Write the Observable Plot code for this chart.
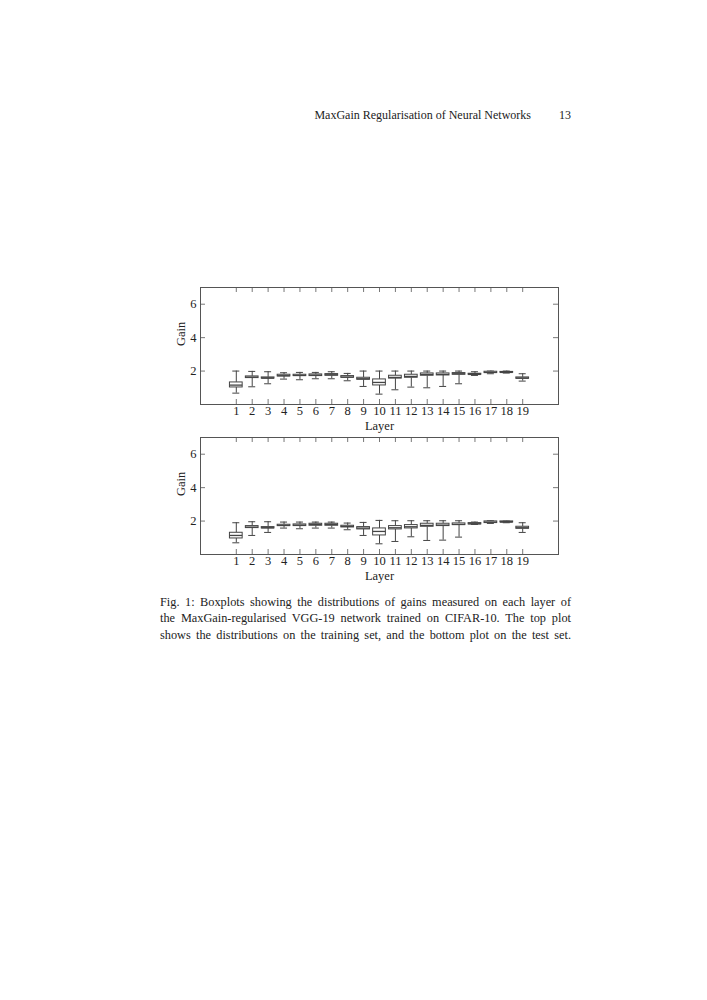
<!DOCTYPE html>
<html>
<head>
<meta charset="utf-8">
<script src="https://cdn.jsdelivr.net/npm/d3@7"></script>
<script src="https://cdn.jsdelivr.net/npm/@observablehq/plot@0.6"></script>
<style>
  html, body { margin: 0; padding: 0; background: #fff; }
  body { width: 707px; height: 1000px; position: relative; font-family: "Liberation Serif", "DejaVu Serif", serif; color: #222; }
  .abs { position: absolute; }
  #header { left: 160px; width: 411px; top: 108px; font-size: 12px; }
  #header .title { position: absolute; right: 40px; white-space: nowrap; }
  #header .page { position: absolute; right: 0; }
  #caption { left: 160px; width: 411px; top: 594px; font-size: 12.3px; line-height: 16.3px; }
  #caption div { text-align: justify; text-align-last: justify; white-space: nowrap; }
  svg { overflow: visible; }
</style>
</head>
<body>
<div id="header" class="abs"><span class="title">MaxGain Regularisation of Neural Networks</span><span class="page">13</span></div>
<div id="bottom" class="abs" style="left:0; top:420px;"></div>
<div id="top" class="abs" style="left:0; top:270px;"></div>
<div id="caption" class="abs">
  <div>Fig. 1: Boxplots showing the distributions of gains measured on each layer of</div>
  <div>the MaxGain-regularised VGG-19 network trained on CIFAR-10. The top plot</div>
  <div>shows the distributions on the training set, and the bottom plot on the test set.</div>
</div>
<script>
// ---- Data ----
const layers = [1,2,3,4,5,6,7,8,9,10,11,12,13,14,15,16,17,18,19];
const yTicks = [2, 4, 6];

// Training set (top plot)
const trainLow  = [0.68,1.06,1.24,1.52,1.48,1.54,1.54,1.42,1.08,0.62,0.88,1.04,1.00,1.08,1.24,1.74,1.84,1.88,1.40];
const trainQ1   = [1.02,1.58,1.55,1.68,1.70,1.70,1.72,1.60,1.48,1.14,1.55,1.60,1.72,1.74,1.78,1.78,1.88,1.90,1.54];
const trainMed  = [1.16,1.64,1.58,1.72,1.74,1.76,1.78,1.64,1.54,1.32,1.62,1.68,1.80,1.80,1.84,1.80,1.92,1.92,1.58];
const trainQ3   = [1.32,1.68,1.62,1.78,1.78,1.80,1.82,1.70,1.60,1.50,1.72,1.78,1.86,1.86,1.88,1.84,1.96,1.95,1.62];
const trainHigh = [2.00,1.98,1.96,1.90,1.92,1.92,1.96,1.86,2.00,2.00,2.00,2.00,2.00,2.00,2.00,1.96,2.00,2.00,1.84];

// Test set (bottom plot)
const testLow  = [0.70,1.14,1.32,1.58,1.54,1.58,1.58,1.48,1.14,0.64,0.78,1.06,0.84,0.86,1.04,1.80,1.86,1.90,1.32];
const testQ1   = [0.96,1.58,1.56,1.70,1.70,1.72,1.72,1.62,1.50,1.14,1.50,1.56,1.66,1.70,1.76,1.80,1.88,1.92,1.54];
const testMed  = [1.14,1.64,1.60,1.74,1.76,1.80,1.80,1.68,1.58,1.38,1.60,1.66,1.74,1.76,1.80,1.84,1.94,1.94,1.60];
const testQ3   = [1.30,1.70,1.64,1.78,1.80,1.84,1.84,1.72,1.64,1.56,1.70,1.76,1.84,1.84,1.86,1.88,1.98,1.98,1.66];
const testHigh = [1.90,1.96,1.96,1.94,1.94,1.94,1.94,1.88,1.92,2.04,2.02,2.02,2.02,2.02,2.02,1.94,2.02,2.00,1.90];

const xLabel = "Layer";
const yLabel = "Gain";

function makeRows(low, q1, med, q3, high) {
  return layers.map((l, i) => ({layer: l, low: low[i], q1: q1[i], med: med[i], q3: q3[i], high: high[i]}));
}

const W = 707, H = 170;
const mL = 200, mR = 149, mT = 17, mB = 36;
const frameW = W - mL - mR, frameH = H - mT - mB;
const BOX = 0.4, CAP = 0.22;
const lineColor = "#444";
const axisColor = "#555";

function boxplot(rows) {
  return Plot.plot({
    width: W, height: H,
    marginLeft: mL, marginRight: mR, marginTop: mT, marginBottom: mB,
    x: {domain: [-1.25, 21.25]},
    y: {domain: [0, 7]},
    style: {fontFamily: "Liberation Serif, DejaVu Serif, serif", fontSize: "12.5px", color: "#222", background: "transparent", overflow: "visible"},
    marks: [
      // tick labels
      Plot.axisX({ticks: layers, tickSize: 0, tickPadding: 2, tickFormat: d => String(d), label: null}),
      Plot.axisY({ticks: yTicks, tickSize: 0, tickPadding: 4, tickFormat: d => String(d), label: null}),
      // inward tick marks (bottom, top, left, right)
      Plot.tickX(layers, {x: d => d, insetTop: frameH - 5, stroke: axisColor, strokeWidth: 0.8}),
      Plot.tickX(layers, {x: d => d, insetBottom: frameH - 5, stroke: axisColor, strokeWidth: 0.8}),
      Plot.tickY(yTicks, {y: d => d, insetRight: frameW - 5, stroke: axisColor, strokeWidth: 0.8}),
      Plot.tickY(yTicks, {y: d => d, insetLeft: frameW - 5, stroke: axisColor, strokeWidth: 0.8}),
      // whiskers
      Plot.ruleX(rows, {x: "layer", y1: "low", y2: "q1", stroke: lineColor, strokeWidth: 1}),
      Plot.ruleX(rows, {x: "layer", y1: "q3", y2: "high", stroke: lineColor, strokeWidth: 1}),
      Plot.ruleY(rows, {y: "low", x1: d => d.layer - CAP, x2: d => d.layer + CAP, stroke: lineColor, strokeWidth: 1}),
      Plot.ruleY(rows, {y: "high", x1: d => d.layer - CAP, x2: d => d.layer + CAP, stroke: lineColor, strokeWidth: 1}),
      // boxes
      Plot.rect(rows, {x1: d => d.layer - BOX, x2: d => d.layer + BOX, y1: "q1", y2: "q3", fill: "white", stroke: lineColor, strokeWidth: 1}),
      // medians
      Plot.ruleY(rows, {y: "med", x1: d => d.layer - BOX, x2: d => d.layer + BOX, stroke: lineColor, strokeWidth: 1.3}),
      // axis titles
      Plot.text([yLabel], {frameAnchor: "left", dx: -20, rotate: -90, fontSize: 12.5, fill: "#222"}),
      Plot.text([xLabel], {frameAnchor: "bottom", dy: 25, fontSize: 12.5, fill: "#222"}),
      Plot.frame({stroke: axisColor, strokeWidth: 1})
    ]
  });
}

document.getElementById("top").append(boxplot(makeRows(trainLow, trainQ1, trainMed, trainQ3, trainHigh)));
document.getElementById("bottom").append(boxplot(makeRows(testLow, testQ1, testMed, testQ3, testHigh)));
</script>
</body>
</html>
